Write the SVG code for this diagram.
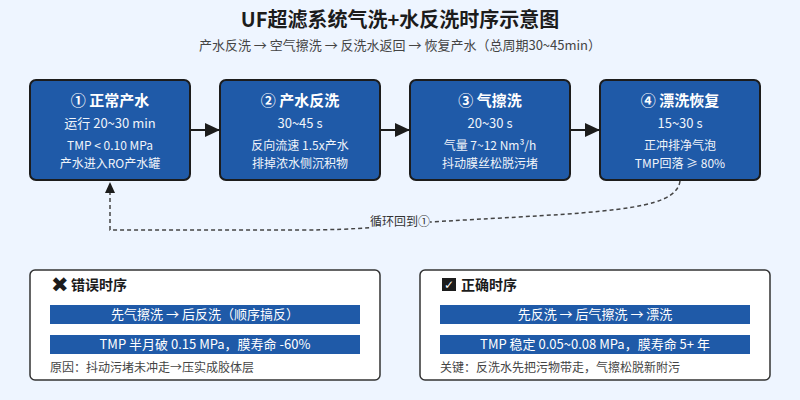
<svg xmlns="http://www.w3.org/2000/svg" width="800" height="400" viewBox="0 0 800 400">
<style>
text{font-family:"Noto Sans CJK SC","Noto Sans",sans-serif}
.bg{fill:#EEF5FF}
.box{fill:#1F5AA8;stroke:#1c1c1c;stroke-width:2}
.bt{fill:#fff;font-size:15px;font-weight:bold;text-anchor:middle}
.b2{fill:#F0F4FA;font-size:13px;text-anchor:middle}
.b3{fill:#F0F4FA;font-size:12px;text-anchor:middle}
.flow{stroke:#1c1c1c;stroke-width:2;fill:none}
.loop{stroke:#444;stroke-width:1.5;fill:none;stroke-dasharray:4 3}
.panel{fill:#fff;stroke:#333;stroke-width:1.5}
.bar{fill:#1F5AA8}
.bartx{fill:#fff;font-size:13px;text-anchor:middle}
.note{fill:#444;font-size:12px}
.ph{fill:#1c1c1c;font-size:14px;font-weight:bold}
.icon{font-family:"DejaVu Sans",sans-serif;fill:#1c1c1c}
</style>
<defs>
<marker id="ah" markerUnits="userSpaceOnUse" markerWidth="16" markerHeight="14" refX="15" refY="7" orient="auto"><path d="M0,0 L15,7 L0,14 z" fill="#1c1c1c"/></marker>
<marker id="ah2" markerUnits="userSpaceOnUse" markerWidth="12" markerHeight="10" refX="11" refY="5" orient="auto"><path d="M0,0 L11,5 L0,10 z" fill="#1c1c1c"/></marker>
</defs>
<rect class="bg" x="0" y="0" width="800" height="400"/>
<text x="400" y="27" text-anchor="middle" font-size="20" font-weight="bold" fill="#1c1c1c">UF超滤系统气洗+水反洗时序示意图</text>
<text x="400" y="50" text-anchor="middle" font-size="13" fill="#444">产水反洗 → 空气擦洗 → 反洗水返回 → 恢复产水（总周期30~45min）</text>

<g id="connectors">
<line class="flow" x1="190" y1="130" x2="220" y2="130" marker-end="url(#ah)"/>
<line class="flow" x1="380" y1="130" x2="410" y2="130" marker-end="url(#ah)"/>
<line class="flow" x1="570" y1="130" x2="600" y2="130" marker-end="url(#ah)"/>
<path class="loop" d="M680,181 C676,212 600,212 430,222 C390,226 360,230 300,230 L110,230 L110,182" marker-end="url(#ah2)"/>
<rect x="370" y="214" width="60" height="15" fill="#EEF5FF"/>
<text x="400" y="226" text-anchor="middle" font-size="12" fill="#333">循环回到①</text>
</g>

<g id="step1">
<rect class="box" x="30" y="80" width="160" height="100" rx="6"/>
<text class="bt" x="110" y="106">① 正常产水</text>
<text class="b2" x="110" y="128">运行 20~30 min</text>
<text class="b3" x="110" y="150">TMP &lt; 0.10 MPa</text>
<text class="b3" x="110" y="168">产水进入RO产水罐</text>
</g>
<g id="step2">
<rect class="box" x="220" y="80" width="160" height="100" rx="6"/>
<text class="bt" x="300" y="106">② 产水反洗</text>
<text class="b2" x="300" y="128">30~45 s</text>
<text class="b3" x="300" y="150">反向流速 1.5x产水</text>
<text class="b3" x="300" y="168">排掉浓水侧沉积物</text>
</g>
<g id="step3">
<rect class="box" x="410" y="80" width="160" height="100" rx="6"/>
<text class="bt" x="490" y="106">③ 气擦洗</text>
<text class="b2" x="490" y="128">20~30 s</text>
<text class="b3" x="490" y="150">气量 7~12 Nm³/h</text>
<text class="b3" x="490" y="168">抖动膜丝松脱污堵</text>
</g>
<g id="step4">
<rect class="box" x="600" y="80" width="160" height="100" rx="6"/>
<text class="bt" x="680" y="106">④ 漂洗恢复</text>
<text class="b2" x="680" y="128">15~30 s</text>
<text class="b3" x="680" y="150">正冲排净气泡</text>
<text class="b3" x="680" y="168">TMP回落 ≥ 80%</text>
</g>

<g id="wrong">
<rect class="panel" x="30" y="270" width="350" height="110" rx="5"/>
<text class="icon" x="51" y="292" font-size="21">✖</text>
<text class="ph" x="71" y="290">错误时序</text>
<rect class="bar" x="50" y="305" width="310" height="19"/>
<text class="bartx" x="205" y="319">先气擦洗 → 后反洗（顺序搞反）</text>
<rect class="bar" x="50" y="335" width="310" height="19"/>
<text class="bartx" x="205" y="349">TMP 半月破 0.15 MPa，膜寿命 -60%</text>
<text class="note" x="50" y="372">原因：抖动污堵未冲走→压实成胶体层</text>
</g>
<g id="right">
<rect class="panel" x="420" y="270" width="350" height="110" rx="5"/>
<rect x="442" y="278" width="14" height="13" fill="#1c1c1c"/>
<text class="icon" x="449" y="289" font-size="12" text-anchor="middle" fill="#fff" style="fill:#fff">✓</text>
<text class="ph" x="461" y="290">正确时序</text>
<rect class="bar" x="440" y="305" width="310" height="19"/>
<text class="bartx" x="595" y="319">先反洗 → 后气擦洗 → 漂洗</text>
<rect class="bar" x="440" y="335" width="310" height="19"/>
<text class="bartx" x="595" y="349">TMP 稳定 0.05~0.08 MPa，膜寿命 5+ 年</text>
<text class="note" x="440" y="372">关键：反洗水先把污物带走，气擦松脱新附污</text>
</g>
</svg>
